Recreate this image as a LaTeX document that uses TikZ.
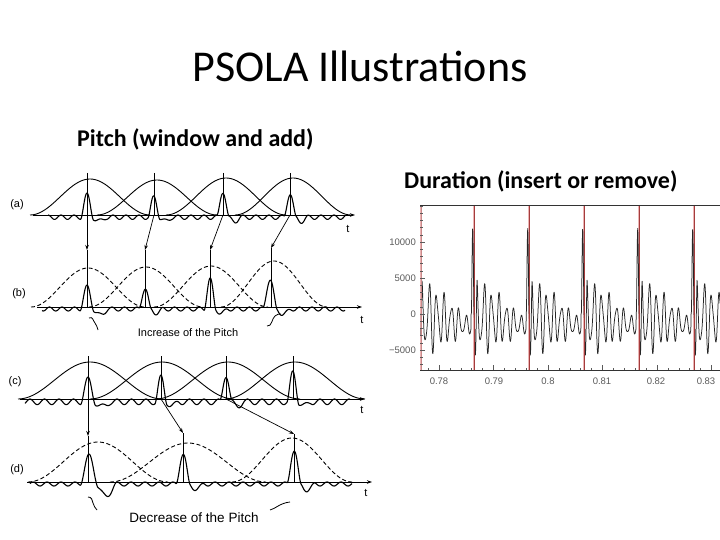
\documentclass[tikz,border=0pt]{standalone}
\usepackage{fontspec}
\setmainfont{Carlito}
\newfontfamily\arialf{Liberation Sans}
\usetikzlibrary{arrows.meta}
\definecolor{redline}{RGB}{165,60,60}
\definecolor{redhalo}{RGB}{235,180,180}
\definecolor{labgray}{RGB}{90,90,90}
\begin{document}
\begin{tikzpicture}[x=1pt,y=-1pt,
  declare function={
    bm(\za)=(max(0,1-min(abs(\za),2)^2))^2;
    pl(\pa,\pb,\pc,\pd)=\pb*bm(\pa/\pc)-\pd*bm((\pa-1.9*\pc)/(1.2*\pc));
    wg(\pa,\pb,\pc)=-\pb*(1-cos((360/\pc)*\pa));
    wv(\ua)=86*bm((\ua+1.3)/1.4)-62*bm((\ua-1.7)/1.5)+(\ua>1)*(1-\ua/62)*(36*sin((360/7.4)*(\ua-1))+11*sin((360/4.6)*(\ua-1)))-12*(\ua+3)/55;
  },
  win/.style={line width=0.9pt},
  dwin/.style={line width=0.9pt,dash pattern=on 4pt off 2.5pt},
  sig/.style={line width=1.1pt,line join=round},
  taxis/.style={line width=0.8pt,-{Stealth[length=5pt,width=3.5pt]}},
  pmark/.style={line width=0.7pt},
  marr/.style={line width=0.7pt,-{Stealth[length=5pt,width=3.5pt]}},
  plab/.style={font=\arialf\fontsize{11}{11}\selectfont,inner sep=0},
  rlab/.style={font=\arialf\fontsize{9.5}{9.5}\selectfont,text=labgray,inner sep=0},
]
\useasboundingbox (0,0) rectangle (720,540);

% titles
\node[font=\fontsize{44}{44}\selectfont,anchor=base,inner sep=0] (title) at (360,82) {PSOLA Illustrations};
\node[font=\bfseries\fontsize{24}{24}\selectfont,anchor=base west,inner sep=0] (pitch) at (77,147) {Pitch (window and add)};
\node[font=\bfseries\fontsize{24}{24}\selectfont,anchor=base west,inner sep=0] (dur) at (404,189) {Duration (insert or remove)};

% ---------- panel (a)
\coordinate (a0) at (33,215); \coordinate (aE) at (355,215);
\draw[taxis] (a0) -- (aE);
\node[plab] (la) at (17,205) {(a)};
\node[plab] (ta) at (348,229) {t};
\foreach \cc/\ww/\hh in {90/60/36,157/60/35,226/60/37,293/58/37}
  \draw[win] plot[domain=-\ww:\ww,samples=60] ({\cc+\x},{215-\hh*cos(90*\x/\ww)^2});
\draw[sig] plot[domain=48:345,samples=500] (\x,{215-(pl(\x-87,22,6.5,4)+pl(\x-154,20,6,4)+pl(\x-223,26,6,4)+pl(\x-290,24,6,4)+wg(\x-87,2.2,13))});
\coordinate (a1t) at (87,173); \coordinate (a1) at (87,215);
\coordinate (a2t) at (154,173); \coordinate (a2) at (154,215);
\coordinate (a3t) at (223,173); \coordinate (a3) at (223,215);
\coordinate (a4t) at (290,173); \coordinate (a4) at (290,215);
\foreach \k in {1,2,3,4} \draw[pmark] (a\k t) -- (a\k);

% ---------- panel (b)
\coordinate (b0) at (37,307); \coordinate (bE) at (362,307);
\draw[taxis] (b0) -- (bE);
\node[plab] (lb) at (19,294) {(b)};
\node[plab] (tb) at (362,320) {t};
\foreach \cc/\ww/\hh in {88/57/39,146/57/40,211/57/41,274/53/46}
  \draw[dwin] plot[domain=-\ww:\ww,samples=60] ({\cc+\x},{307-\hh*cos(90*\x/\ww)^2});
\draw[sig] plot[domain=42:345,samples=500] (\x,{307-(pl(\x-87,22,7,6)+pl(\x-145,21,6,4)+pl(\x-210,30,6,4)+pl(\x-270,30,7,5)+wg(\x-87,2,12.5))});
\coordinate (b1t) at (87,250); \coordinate (b1) at (87,307);
\coordinate (b2t) at (145,250); \coordinate (b2) at (145,307);
\coordinate (b3t) at (210,250); \coordinate (b3) at (210,307);
\coordinate (b4t) at (271,248); \coordinate (b4) at (271,307);
\foreach \k in {1,2,3,4} \draw[pmark] (b\k t) -- (b\k);
\foreach \k in {1,2,3,4} \draw[marr] (a\k) -- (b\k t);
\draw[line width=0.8pt] (89,318) .. controls (93,316) and (93,321) .. (95,323) .. controls (97,325) and (97,328) .. (98,330);
\draw[line width=0.8pt] (267,326) .. controls (272,327) and (272,318) .. (275,316) .. controls (277,314) and (279,314) .. (281,314);
\node[font=\arialf\fontsize{11}{11}\selectfont,inner sep=0] (inc) at (188,333) {Increase of the Pitch};

% ---------- panel (c)
\coordinate (c0) at (20,399); \coordinate (cE) at (365,399);
\draw[taxis] (c0) -- (cE);
\node[plab] (lc) at (15,382) {(c)};
\node[plab] (tc) at (362,410) {t};
\foreach \cc/\ww/\hh in {90/72/37,162/72/37,228/72/37,295/70/37}
  \draw[win] plot[domain=-\ww:\ww,samples=60] ({\cc+\x},{399-\hh*cos(90*\x/\ww)^2});
\draw[sig] plot[domain=25:350,samples=550] (\x,{399-(pl(\x-88,22,7.5,5)+pl(\x-161,24,6,4)+pl(\x-226,27,6,4)+pl(\x-293,29,6,4)+wg(\x-88,2.8,14.5))});
\coordinate (c1t) at (88,356); \coordinate (c1) at (88,399);
\coordinate (c2t) at (161,356); \coordinate (c2) at (161,399);
\coordinate (c3t) at (226,356); \coordinate (c3) at (226,399);
\coordinate (c4t) at (293,356); \coordinate (c4) at (293,399);
\foreach \k in {1,2,3,4} \draw[pmark] (c\k t) -- (c\k);

% ---------- panel (d)
\coordinate (d0) at (27,482); \coordinate (dE) at (372,482);
\draw[taxis] (d0) -- (dE);
\node[plab] (ld) at (17,470) {(d)};
\node[plab] (td) at (366,493) {t};
\foreach \cc/\ww/\hh in {98/70/40,188/78/39,292/60/44}
  \draw[dwin] plot[domain=-\ww:\ww,samples=60] ({\cc+\x},{482-\hh*cos(90*\x/\ww)^2});
\draw[sig] plot[domain=30:352,samples=550] (\x,{482-(pl(\x-89,28,9,12)+pl(\x-183,30,7,5)+pl(\x-294,34,7,6)+wg(\x-89,2,14))});
\coordinate (d1t) at (88,436); \coordinate (d1) at (88,482);
\coordinate (d2t) at (183,433); \coordinate (d2) at (183,482);
\coordinate (d3t) at (294,434); \coordinate (d3) at (294,482);
\foreach \k in {1,2,3} \draw[pmark] (d\k t) -- (d\k);
\foreach \k in {1,2,3} \draw[marr] (c\k) -- (d\k t);
\draw[line width=0.8pt] (88,497) .. controls (92,497) and (92,500) .. (93,503) .. controls (94,506) and (95,508) .. (97,510);
\draw[line width=0.8pt] (270,510) .. controls (275,509) and (280,503) .. (290,502);
\node[font=\arialf\fontsize{13.5}{13.5}\selectfont,inner sep=0] (dec) at (194,518) {Decrease of the Pitch};

% ---------- right plot
\begin{scope}
\clip (416,200) rectangle (720,372);
\foreach \lx in {421,474,529,584,639,694} \draw[line width=2.8pt,redhalo] (\lx,205) -- (\lx,370);
\draw[line width=0.75pt,line join=round,black!85] plot[domain=421:720,samples=1200] (\x,{314-wv(mod(\x-361,55)-3)});
\foreach \lx in {474,529,584,639,694} \draw[line width=0.8pt,redline] (\lx,205) -- (\lx,370);
\draw[line width=0.5pt,redline!60] (421,205) -- (421,370);
\end{scope}
\coordinate (rTL) at (420,205); \coordinate (rTR) at (720,205);
\coordinate (rBL) at (420,370); \coordinate (rBR) at (720,370);
\draw[line width=0.8pt,black!80] (rTL) -- (rTR);
\draw[line width=0.8pt,black!80] (rBL) -- (rBR);
\foreach \k in {-7,...,15} \draw[line width=0.5pt,labgray] (420,{314-7.2*\k}) -- (423,{314-7.2*\k});
\foreach \k in {-5,0,5,10} \draw[line width=0.6pt,labgray] (420,{314-7.2*\k}) -- (425,{314-7.2*\k});
\foreach \j in {-1,...,25} \draw[line width=0.5pt,labgray] ({439+10.9*\j},370) -- ({439+10.9*\j},367.5);
\foreach \j in {0,5,10,15,20,25} \draw[line width=0.6pt,labgray] ({439+10.9*\j},370) -- ({439+10.9*\j},365);
\node[rlab,anchor=east] (y1) at (416,242) {10000};
\node[rlab,anchor=east] (y2) at (416,278) {5000};
\node[rlab,anchor=east] (y3) at (416,314) {0};
\node[rlab,anchor=east] (y4) at (416,350) {−5000};
\node[rlab] (x1) at (439,381) {0.78};
\node[rlab] (x2) at (494,381) {0.79};
\node[rlab] (x3) at (548,381) {0.8};
\node[rlab] (x4) at (602,381) {0.81};
\node[rlab] (x5) at (656,381) {0.82};
\node[rlab] (x6) at (706,381) {0.83};
\end{tikzpicture}
\end{document}
